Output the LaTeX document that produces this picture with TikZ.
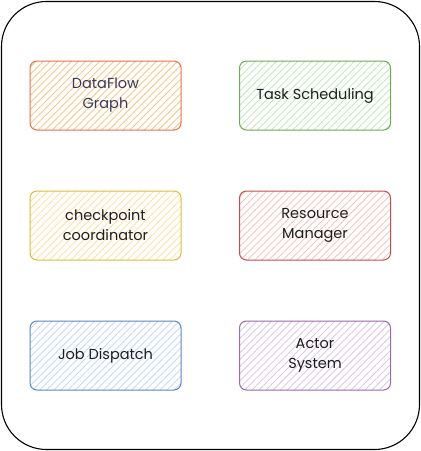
\documentclass[tikz,border=0pt]{standalone}
\usepackage{fontspec}
\setmainfont{Poppins}
\usetikzlibrary{patterns.meta}

\definecolor{dfline}{HTML}{E8704D}
\definecolor{dffill}{HTML}{F7C98A}
\definecolor{tsline}{HTML}{6FAA55}
\definecolor{tsfill}{HTML}{C8E6C4}
\definecolor{cpline}{HTML}{E2B93B}
\definecolor{cpfill}{HTML}{FBE3A3}
\definecolor{rmline}{HTML}{C0504D}
\definecolor{rmfill}{HTML}{F7C4C4}
\definecolor{jdline}{HTML}{5B85C8}
\definecolor{jdfill}{HTML}{C6D9F5}
\definecolor{asline}{HTML}{9A6AAB}
\definecolor{asfill}{HTML}{DCC9E6}
\definecolor{ink}{HTML}{1E1E1E}
\definecolor{slate}{HTML}{3A3A55}

\begin{document}
\begin{tikzpicture}[x=1pt,y=-1pt,
  box/.style={rectangle, rounded corners=7pt, line width=1pt,
    minimum width=151pt, minimum height=69pt, align=center,
    font=\fontsize{14.5}{20}\selectfont, text=ink,
    pattern={Lines[angle=45,distance=5pt,line width=0.9pt]}}]
\useasboundingbox (0,0) rectangle (421,451);
\draw[line width=1.1pt, rounded corners=45pt] (1.5,1.5) rectangle (419.5,449.5);

\node[box, draw=dfline, pattern color=dffill, text=slate] (dataflow) at (105.5,95.5) {DataFlow\\Graph};
\node[box, draw=tsline, pattern color=tsfill] (tasksched) at (315,95.5) {Task Scheduling};

\node[box, draw=cpline, pattern color=cpfill] (checkpoint) at (105.5,225.5) {checkpoint\\coordinator};
\node[box, draw=rmline, pattern color=rmfill] (resmgr) at (315,225.5) {Resource\\Manager};

\node[box, draw=jdline, pattern color=jdfill] (jobdisp) at (105.5,355.5) {Job Dispatch};
\node[box, draw=asline, pattern color=asfill] (actorsys) at (315,355.5) {Actor\\System};
\end{tikzpicture}
\end{document}
